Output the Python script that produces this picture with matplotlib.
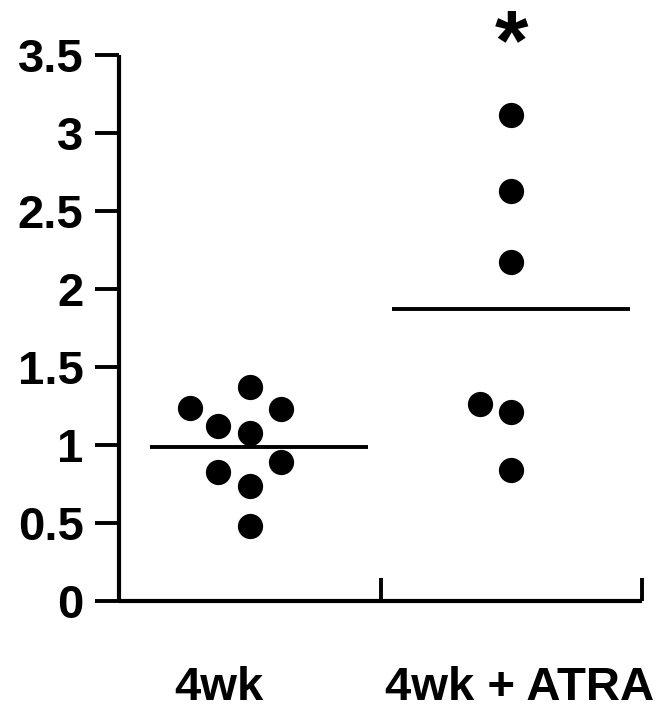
import matplotlib
matplotlib.use("Agg")
import matplotlib.pyplot as plt
import matplotlib.transforms as mtransforms

# Data
categories = ["4wk", "4wk + ATRA"]
group1_values = [1.24, 1.37, 1.12, 1.23, 1.08, 0.83, 0.89, 0.74, 0.48]
group1_x = [0.27, 0.50, 0.38, 0.62, 0.50, 0.38, 0.62, 0.50, 0.50]
group2_values = [3.115, 2.63, 2.17, 1.26, 1.21, 0.84]
group2_x = [1.50, 1.50, 1.50, 1.38, 1.50, 1.50]
mean1 = 0.99
mean2 = 1.87
mean1_span = (0.118, 0.952)
mean2_span = (1.044, 1.954)
yticks = [0, 0.5, 1, 1.5, 2, 2.5, 3, 3.5]
ytick_labels = ["0", "0.5", "1", "1.5", "2", "2.5", "3", "3.5"]
significance = "*"

plt.rcParams['font.family'] = ['Liberation Sans', 'DejaVu Sans']
plt.rcParams['font.weight'] = 'bold'

fig = plt.figure(figsize=(6.6, 7.15), dpi=100)
ax = fig.add_axes([119/660, 1 - 601/715, (642-119)/660, (601-55)/715])

ax.scatter(group1_x, group1_values, s=330, color='black', zorder=3, linewidths=0)
ax.scatter(group2_x, group2_values, s=330, color='black', zorder=3, linewidths=0)
ax.hlines(mean1, *mean1_span, color='black', lw=2.8, zorder=2)
ax.hlines(mean2, *mean2_span, color='black', lw=2.8, zorder=2)

ax.set_xlim(0, 2)
ax.set_ylim(0, 3.5)
for s in ['top', 'right']:
    ax.spines[s].set_visible(False)
for s in ['left', 'bottom']:
    ax.spines[s].set_linewidth(3.0)
    ax.spines[s].set_capstyle('butt')

ax.set_yticks(yticks)
ax.set_yticklabels(ytick_labels, fontsize=34, fontweight='bold')
ax.tick_params(axis='y', direction='out', length=17.5, width=2.8, pad=8)
ax.set_xticks([1, 2])
ax.set_xticklabels([])
ax.tick_params(axis='x', direction='in', length=16.5, width=2.8)

trans = mtransforms.blended_transform_factory(ax.transData, fig.transFigure)
ax.text(0.382, 1 - 688/715, categories[0], transform=trans, ha='center', va='center',
        fontsize=34, fontweight='bold')
ax.text(1.533, 1 - 688/715, categories[1], transform=trans, ha='center', va='center',
        fontsize=34, fontweight='bold')
ax.text(1.5, 1 - 69/715, significance, transform=trans, ha='center', va='baseline',
        fontsize=62, fontweight='bold', clip_on=False)

fig.savefig("out.png", dpi=100)
